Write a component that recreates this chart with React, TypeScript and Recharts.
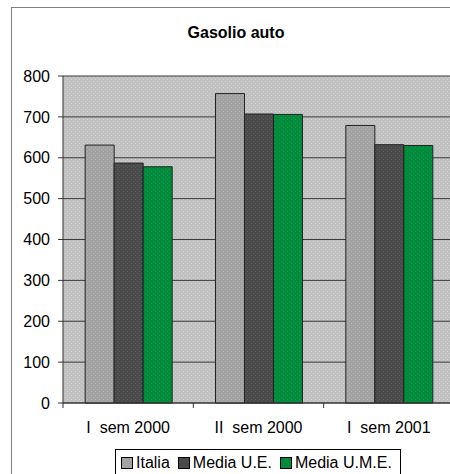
import React from 'react';
import {
  BarChart,
  Bar,
  XAxis,
  YAxis,
  CartesianGrid,
  Legend,
} from 'recharts';

const periods = ['I  sem 2000', 'II  sem 2000', 'I  sem 2001'];
const italia = [631, 757, 679];
const mediaUE = [587, 707, 632];
const mediaUME = [578, 706, 630];
const yTicks = [0, 100, 200, 300, 400, 500, 600, 700, 800];

const data = periods.map((p, i) => ({
  period: p,
  italia: italia[i],
  ue: mediaUE[i],
  ume: mediaUME[i],
}));

const FONT = '"Liberation Sans", Arial, sans-serif';
const CHART_W = 460;
const M_LEFT = 8;
const Y_W = 55;
const M_RIGHT = 6;
const BAND = (CHART_W - M_LEFT - Y_W - M_RIGHT) / periods.length;

const XTick = (props: any) => {
  const { x, y, payload } = props;
  return (
    <g>
      <line x1={x - BAND / 2} x2={x - BAND / 2} y1={y - 8} y2={y - 3} stroke="#333" />
      <text
        x={x}
        y={y + 22}
        textAnchor="middle"
        fill="#000"
        fontSize={16}
        fontFamily={FONT}
        style={{ whiteSpace: 'pre' }}
      >
        {payload.value}
      </text>
    </g>
  );
};

const LegendBox = (props: any) => {
  const items = props.payload || [];
  return (
    <div
      style={{
        border: '1px solid #000',
        background: '#fff',
        display: 'flex',
        alignItems: 'center',
        padding: '4px 6px 6px 5px',
        fontFamily: FONT,
        fontSize: 16,
        lineHeight: '18px',
        whiteSpace: 'nowrap',
      }}
    >
      {items.map((it: any, i: number) => (
        <span
          key={i}
          style={{ display: 'flex', alignItems: 'center', marginRight: i < items.length - 1 ? 8 : 2 }}
        >
          <span
            style={{
              display: 'inline-block',
              width: 10,
              height: 10,
              border: '1px solid #000',
              background: it.payload.legendColor,
              marginRight: 3,
            }}
          />
          {it.value}
        </span>
      ))}
    </div>
  );
};

const dotPattern = (id: string, base: string, dot: string) => (
  <pattern id={id} width={4} height={4} patternUnits="userSpaceOnUse">
    <rect width={4} height={4} fill={base} />
    <rect x={1} y={1} width={1} height={1} fill={dot} />
    <rect x={3} y={3} width={1} height={1} fill={dot} />
  </pattern>
);

export default function App() {
  return (
    <div
      style={{
        position: 'absolute',
        left: 0,
        top: 0,
        width: 450,
        height: 474,
        overflow: 'hidden',
        background: '#fff',
      }}
    >
      <div
        style={{
          position: 'absolute',
          left: 11,
          top: 7,
          width: 470,
          height: 490,
          border: '1px solid #808080',
        }}
      />
      <div
        style={{
          position: 'absolute',
          left: 0,
          width: 472,
          top: 24,
          textAlign: 'center',
          fontFamily: FONT,
          fontWeight: 'bold',
          fontSize: 16,
        }}
      >
        Gasolio auto
      </div>
      <div style={{ position: 'absolute', left: 0, top: 0 }}>
        <BarChart
          width={CHART_W}
          height={474}
          data={data}
          margin={{ top: 76, right: M_RIGHT, left: M_LEFT, bottom: 11 }}
          barCategoryGap="17%"
          barGap={0}
        >
          <defs>
            {dotPattern('bgDots', '#c0c0c0', '#d4d4d4')}
            {dotPattern('itDots', '#a2a2a2', '#b4b4b4')}
            {dotPattern('ueDots', '#4a4a4a', '#5e5e5e')}
            {dotPattern('umeDots', '#008a3c', '#109848')}
          </defs>
          <CartesianGrid
            vertical={false}
            stroke="#3a3a3a"
            fill="url(#bgDots)"
            fillOpacity={1}
          />
          <XAxis
            dataKey="period"
            height={30}
            tick={<XTick />}
            tickLine={false}
            axisLine={{ stroke: '#333' }}
            interval={0}
          />
          <YAxis
            width={Y_W}
            domain={[0, 800]}
            ticks={yTicks}
            tickSize={5}
            tickMargin={8}
            axisLine={{ stroke: '#333' }}
            tickLine={{ stroke: '#333' }}
            tick={{ fill: '#000', fontSize: 16, fontFamily: FONT }}
          />
          <Legend
            content={<LegendBox />}
            wrapperStyle={{ left: 115, top: 449, width: 'auto', bottom: 'auto' }}
          />
          <Bar
            dataKey="italia"
            name="Italia"
            fill="url(#itDots)"
            stroke="#222"
            strokeWidth={1}
            legendColor="#a2a2a2"
            isAnimationActive={false}
          />
          <Bar
            dataKey="ue"
            name="Media U.E."
            fill="url(#ueDots)"
            stroke="#222"
            strokeWidth={1}
            legendColor="#4a4a4a"
            isAnimationActive={false}
          />
          <Bar
            dataKey="ume"
            name="Media U.M.E."
            fill="url(#umeDots)"
            stroke="#222"
            strokeWidth={1}
            legendColor="#008a3c"
            isAnimationActive={false}
          />
        </BarChart>
      </div>
    </div>
  );
}
